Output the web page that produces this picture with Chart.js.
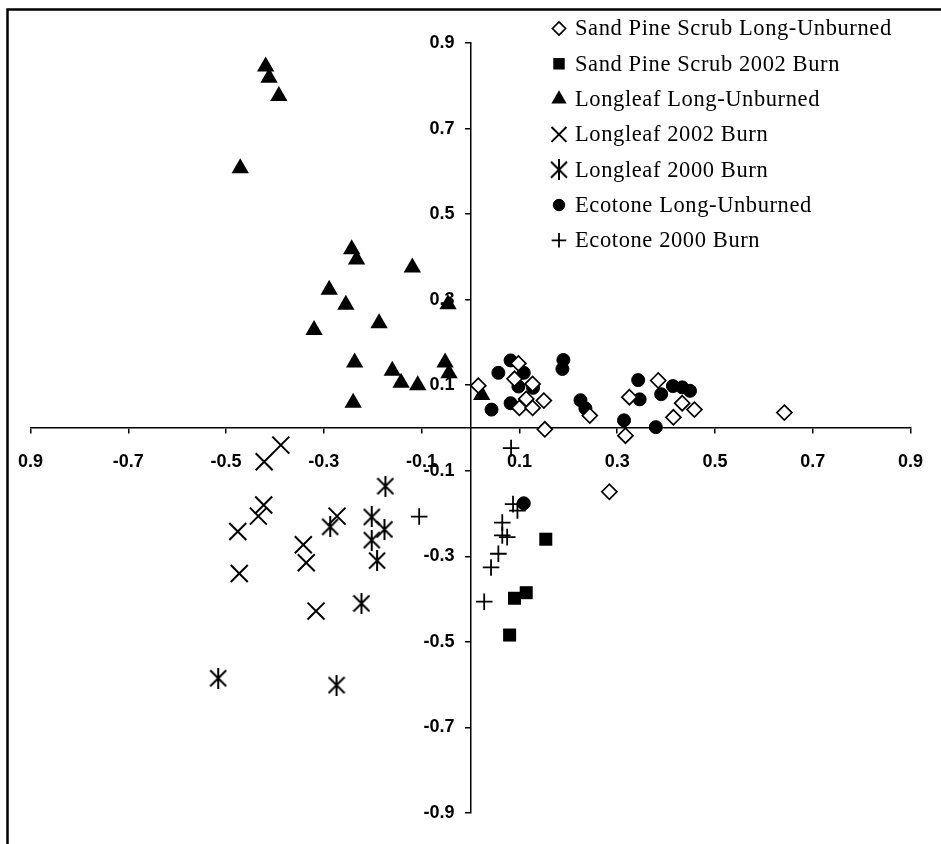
<!DOCTYPE html>
<html>
<head>
<meta charset="utf-8">
<title>Ordination of plant communities</title>
<script src="https://cdn.jsdelivr.net/npm/chart.js@4.4.0/dist/chart.umd.min.js"></script>
<style>
  html, body { margin: 0; padding: 0; background: #fff; }
  #wrap { width: 941px; height: 844px; }
</style>
</head>
<body>
<div id="wrap"><canvas id="ordChart" width="941" height="844"></canvas></div>
<script>
// Axis ticks
const xTickValues = [-0.9, -0.7, -0.5, -0.3, -0.1, 0.1, 0.3, 0.5, 0.7, 0.9];
const xTickLabels = ['0.9', '-0.7', '-0.5', '-0.3', '-0.1', '0.1', '0.3', '0.5', '0.7', '0.9'];
const yTickValues = [-0.9, -0.7, -0.5, -0.3, -0.1, 0.1, 0.3, 0.5, 0.7, 0.9];
const yTickLabels = ['-0.9', '-0.7', '-0.5', '-0.3', '-0.1', '0.1', '0.3', '0.5', '0.7', '0.9'];

const seriesNames = [
    'Sand Pine Scrub Long-Unburned',
    'Sand Pine Scrub 2002 Burn',
    'Longleaf Long-Unburned',
    'Longleaf 2002 Burn',
    'Longleaf 2000 Burn',
    'Ecotone Long-Unburned',
    'Ecotone 2000 Burn'
];

// [x, y] pairs
const sandPineUnburned = [
    [0.016, 0.099], [0.098, 0.151], [0.090, 0.115], [0.127, 0.103], [0.114, 0.068],
    [0.100, 0.047], [0.127, 0.047], [0.150, 0.064], [0.152, -0.003], [0.244, 0.029],
    [0.325, 0.072], [0.384, 0.111], [0.433, 0.058], [0.458, 0.043], [0.415, 0.025],
    [0.642, 0.036], [0.317, -0.018], [0.284, -0.149]
];
const sandPine2002 = [
    [0.154, -0.260], [0.114, -0.385], [0.090, -0.398], [0.080, -0.484]
];
const longleafUnburned = [
    [-0.419, 0.845], [-0.412, 0.819], [-0.392, 0.776], [-0.471, 0.607], [-0.243, 0.418],
    [-0.233, 0.394], [-0.119, 0.375], [-0.289, 0.323], [-0.255, 0.288], [-0.046, 0.289],
    [-0.187, 0.245], [-0.320, 0.229], [-0.237, 0.153], [-0.160, 0.134], [-0.142, 0.106],
    [-0.108, 0.100], [-0.052, 0.153], [-0.044, 0.128], [-0.240, 0.059], [0.023, 0.077]
];
const longleaf2002 = [
    [-0.388, -0.040], [-0.422, -0.079], [-0.423, -0.180], [-0.434, -0.206], [-0.476, -0.242],
    [-0.342, -0.273], [-0.336, -0.315], [-0.473, -0.340], [-0.316, -0.428], [-0.273, -0.206]
];
const longleaf2000 = [
    [-0.174, -0.136], [-0.202, -0.208], [-0.176, -0.237], [-0.202, -0.262], [-0.191, -0.310],
    [-0.287, -0.231], [-0.223, -0.410], [-0.516, -0.585], [-0.274, -0.601]
];
const ecotoneUnburned = [
    [0.082, 0.158], [0.057, 0.129], [0.109, 0.129], [0.098, 0.097], [0.128, 0.094],
    [0.043, 0.043], [0.082, 0.058], [0.190, 0.159], [0.188, 0.138], [0.225, 0.065],
    [0.235, 0.046], [0.314, 0.018], [0.343, 0.112], [0.346, 0.067], [0.390, 0.079],
    [0.414, 0.098], [0.433, 0.095], [0.449, 0.087], [0.379, 0.002], [0.109, -0.176]
];
const ecotone2000 = [
    [0.083, -0.047], [0.087, -0.178], [0.096, -0.193], [0.065, -0.221], [0.065, -0.251],
    [0.075, -0.255], [0.057, -0.294], [0.042, -0.326], [0.028, -0.406], [-0.105, -0.207]
];

// Excel style asterisk: an X with a vertical bar
function asteriskMarker(w, h, lw) {
    const c = document.createElement('canvas');
    c.width = w;
    c.height = h;
    const g = c.getContext('2d');
    g.strokeStyle = '#000';
    g.lineWidth = lw;
    const top = (h - w) / 2;
    g.beginPath();
    g.moveTo(1, top + 1); g.lineTo(w - 1, top + w - 1);
    g.moveTo(w - 1, top + 1); g.lineTo(1, top + w - 1);
    g.moveTo(w / 2, 0); g.lineTo(w / 2, h);
    g.stroke();
    return c;
}

const starImg = asteriskMarker(18, 21, 2);

function toPoints(list) {
    return list.map(p => ({ x: p[0], y: p[1] }));
}

const pointLook = [
    { pointStyle: 'rectRot', radius: 7.5, backgroundColor: '#fff', borderColor: '#000', borderWidth: 1.7 },
    { pointStyle: 'rect', radius: 9.2, backgroundColor: '#000', borderColor: '#000', borderWidth: 0 },
    { pointStyle: 'triangle', radius: 10, backgroundColor: '#000', borderColor: '#000', borderWidth: 0 },
    { pointStyle: 'crossRot', radius: 12, backgroundColor: '#000', borderColor: '#000', borderWidth: 2 },
    { pointStyle: starImg, radius: 9, backgroundColor: '#000', borderColor: '#000', borderWidth: 2 },
    { pointStyle: 'circle', radius: 6.5, backgroundColor: '#000', borderColor: '#000', borderWidth: 1 },
    { pointStyle: 'cross', radius: 8.3, backgroundColor: '#000', borderColor: '#000', borderWidth: 1.8 }
];

const seriesData = [sandPineUnburned, sandPine2002, longleafUnburned, longleaf2002,
    longleaf2000, ecotoneUnburned, ecotone2000];

const datasets = seriesData.map((list, i) => ({
    label: seriesNames[i],
    data: toPoints(list),
    pointStyle: pointLook[i].pointStyle,
    pointRadius: pointLook[i].radius,
    pointHoverRadius: pointLook[i].radius,
    pointBackgroundColor: pointLook[i].backgroundColor,
    pointBorderColor: pointLook[i].borderColor,
    pointBorderWidth: pointLook[i].borderWidth,
    showLine: false,
    clip: false
}));

// Frame round the figure (left and top edges visible)
const framePlugin = {
    id: 'frame',
    beforeDraw(chart) {
        const ctx = chart.ctx;
        ctx.save();
        ctx.strokeStyle = '#000';
        ctx.lineWidth = 2.5;
        ctx.beginPath();
        ctx.moveTo(7.5, 844);
        ctx.lineTo(7.5, 9.5);
        ctx.lineTo(941, 9.5);
        ctx.stroke();
        ctx.restore();
    }
};

// Legend in the upper right corner
const legendPlugin = {
    id: 'cornerLegend',
    afterDraw(chart) {
        const ctx = chart.ctx;
        const markX = 559;
        const textX = 575;
        const rowTop = 28.5;
        const rowGap = 35.3;
        ctx.save();
        ctx.font = '22.5px "Liberation Serif", "Times New Roman", serif';
        ctx.letterSpacing = '0.6px';
        ctx.textBaseline = 'middle';
        ctx.textAlign = 'left';
        seriesNames.forEach((name, i) => {
            const y = rowTop + i * rowGap;
            const look = pointLook[i];
            ctx.fillStyle = look.backgroundColor;
            ctx.strokeStyle = look.borderColor;
            ctx.lineWidth = look.borderWidth;
            Chart.helpers.drawPoint(ctx, {
                pointStyle: look.pointStyle,
                radius: look.radius * 0.88,
                rotation: 0,
                borderWidth: look.borderWidth
            }, markX, y);
            ctx.fillStyle = '#000';
            ctx.fillText(name, textX, y + 1);
        });
        ctx.restore();
    }
};

const tickFont = { family: '"Liberation Sans", Arial, sans-serif', size: 18, weight: 'bold' };

// A y axis placed at x = 0 puts its labels right on the line; move them left of the tick marks
function shiftYLabels(scale) {
    scale.width = 0;
    if (scale._labelsShifted) return;
    const orig = scale._computeLabelItems.bind(scale);
    scale._computeLabelItems = function(area) {
        const items = orig(area);
        items.forEach(it => {
            if (it.options && it.options.translation) it.options.translation[0] -= 16;
        });
        return items;
    };
    scale._labelsShifted = true;
}

new Chart(document.getElementById('ordChart'), {
    type: 'scatter',
    data: { datasets: datasets },
    options: {
        responsive: false,
        animation: false,
        events: [],
        layout: { padding: { left: 27, right: 24, top: 43, bottom: 31 } },
        plugins: {
            legend: { display: false },
            tooltip: { enabled: false }
        },
        scales: {
            x: {
                type: 'linear',
                min: -0.9,
                max: 0.9,
                position: { y: 0 },
                afterFit: function(scale) { scale.height = 0; },
                afterBuildTicks: function(scale) {
                    scale.ticks = xTickValues.map(v => ({ value: v }));
                },
                grid: { drawOnChartArea: false, drawTicks: true, tickLength: 5, color: '#000', lineWidth: 1.5 },
                border: { display: true, color: '#000', width: 1.5 },
                ticks: {
                    autoSkip: false,
                    maxRotation: 0,
                    padding: 18,
                    color: '#000',
                    font: tickFont,
                    callback: function(value, index) { return xTickLabels[index]; }
                }
            },
            y: {
                type: 'linear',
                min: -0.9,
                max: 0.9,
                position: { x: 0 },
                afterFit: shiftYLabels,
                afterBuildTicks: function(scale) {
                    scale.ticks = yTickValues.map(v => ({ value: v }));
                },
                grid: { drawOnChartArea: false, drawTicks: true, tickLength: 5, color: '#000', lineWidth: 1.5 },
                border: { display: true, color: '#000', width: 1.5 },
                ticks: {
                    autoSkip: false,
                    padding: 11,
                    color: '#000',
                    font: tickFont,
                    callback: function(value, index) { return yTickLabels[index]; }
                }
            }
        }
    },
    plugins: [framePlugin, legendPlugin]
});
</script>
</body>
</html>
